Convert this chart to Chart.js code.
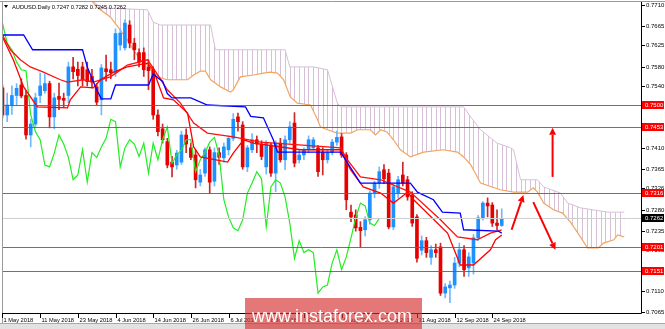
<!DOCTYPE html>
<html>
<head>
<meta charset="utf-8">
<title>AUDUSD Daily</title>
<script src="https://cdn.jsdelivr.net/npm/chart.js@4.4.1/dist/chart.umd.min.js"></script>
<style>
  html, body { margin: 0; padding: 0; background: #fff; }
  #chart { display: block; }
</style>
</head>
<body>
<canvas id="chart" width="665" height="329"></canvas>
<script>

// bougies, une par jour (1 May 2018 -> 26 Sep 2018)
const opens = [0.7536,0.7479,0.7500,0.7520,0.7542,0.7520,0.7437,0.7460,0.7520,0.7530,
  0.7545,0.7475,0.7518,0.7514,0.7520,0.7580,0.7575,0.7580,0.7574,0.7560,
  0.7538,0.7511,0.7576,0.7574,0.7568,0.7626,0.7620,0.7668,0.7630,0.7610,
  0.7610,0.7580,0.7574,0.7479,0.7450,0.7423,0.7380,0.7374,0.7380,0.7437,
  0.7410,0.7395,0.7338,0.7357,0.7406,0.7340,0.7400,0.7389,0.7406,0.7430,
  0.7475,0.7458,0.7370,0.7406,0.7427,0.7418,0.7370,0.7416,0.7357,0.7420,
  0.7385,0.7427,0.7462,0.7385,0.7395,0.7406,0.7410,0.7410,0.7400,0.7385,
  0.7400,0.7422,0.7433,0.7395,0.7275,0.7269,0.7243,0.7238,0.7259,0.7315,
  0.7336,0.7364,0.7357,0.7244,0.7315,0.7353,0.7343,0.7311,0.7265,0.7195,
  0.7215,0.7180,0.7196,0.7202,0.7105,0.7116,0.7122,0.7168,0.7196,0.7158,
  0.7168,0.7221,0.7263,0.7294,0.7290,0.7252,0.7247];
const highs = [0.7542,0.7525,0.7540,0.7545,0.7555,0.7530,0.7470,0.7525,0.7567,0.7565,
  0.7550,0.7525,0.7546,0.7525,0.7590,0.7600,0.7590,0.7590,0.7590,0.7575,
  0.7545,0.7585,0.7605,0.7590,0.7660,0.7660,0.7679,0.7677,0.7640,0.7618,
  0.7620,0.7595,0.7580,0.7490,0.7460,0.7430,0.7392,0.7405,0.7445,0.7450,
  0.7420,0.7405,0.7365,0.7410,0.7412,0.7410,0.7410,0.7420,0.7435,0.7482,
  0.7483,0.7465,0.7415,0.7440,0.7435,0.7425,0.7425,0.7420,0.7425,0.7430,
  0.7435,0.7465,0.7484,0.7405,0.7410,0.7435,0.7432,0.7415,0.7410,0.7405,
  0.7428,0.7445,0.7440,0.7400,0.7290,0.7280,0.7255,0.7265,0.7320,0.7340,
  0.7370,0.7375,0.7365,0.7335,0.7350,0.7380,0.7350,0.7318,0.7270,0.7225,
  0.7222,0.7205,0.7208,0.7210,0.7125,0.7130,0.7180,0.7210,0.7205,0.7190,
  0.7228,0.7268,0.7297,0.7305,0.7295,0.7280,0.7282];
const lows = [0.7473,0.7465,0.7480,0.7500,0.7515,0.7428,0.7412,0.7455,0.7505,0.7525,
  0.7452,0.7450,0.7490,0.7495,0.7505,0.7555,0.7540,0.7540,0.7540,0.7536,
  0.7500,0.7479,0.7550,0.7555,0.7560,0.7615,0.7615,0.7620,0.7595,0.7580,
  0.7560,0.7532,0.7470,0.7435,0.7420,0.7368,0.7349,0.7365,0.7375,0.7400,
  0.7385,0.7326,0.7330,0.7350,0.7315,0.7330,0.7375,0.7380,0.7395,0.7425,
  0.7445,0.7365,0.7360,0.7400,0.7400,0.7385,0.7355,0.7350,0.7318,0.7380,
  0.7364,0.7420,0.7370,0.7378,0.7385,0.7400,0.7405,0.7350,0.7353,0.7378,
  0.7395,0.7415,0.7390,0.7280,0.7255,0.7235,0.7202,0.7225,0.7250,0.7305,
  0.7325,0.7335,0.7240,0.7238,0.7305,0.7330,0.7300,0.7245,0.7170,0.7185,
  0.7180,0.7165,0.7180,0.7100,0.7095,0.7085,0.7115,0.7160,0.7140,0.7140,
  0.7145,0.7215,0.7258,0.7265,0.7245,0.7238,0.7245];
const closes = [0.7479,0.7500,0.7520,0.7535,0.7519,0.7437,0.7460,0.7515,0.7540,0.7545,
  0.7475,0.7515,0.7512,0.7510,0.7580,0.7570,0.7562,0.7553,0.7549,0.7548,
  0.7506,0.7578,0.7570,0.7568,0.7650,0.7651,0.7672,0.7630,0.7616,0.7590,
  0.7574,0.7572,0.7479,0.7444,0.7427,0.7374,0.7370,0.7399,0.7437,0.7418,
  0.7390,0.7343,0.7353,0.7406,0.7338,0.7400,0.7390,0.7412,0.7430,0.7470,
  0.7465,0.7370,0.7410,0.7427,0.7418,0.7392,0.7420,0.7357,0.7420,0.7385,
  0.7427,0.7454,0.7378,0.7395,0.7405,0.7427,0.7427,0.7360,0.7385,0.7400,
  0.7422,0.7432,0.7395,0.7301,0.7265,0.7242,0.7236,0.7259,0.7315,0.7336,
  0.7360,0.7345,0.7244,0.7328,0.7343,0.7336,0.7307,0.7252,0.7178,0.7215,
  0.7190,0.7196,0.7190,0.7105,0.7118,0.7122,0.7168,0.7196,0.7154,0.7181,
  0.7221,0.7263,0.7294,0.7288,0.7252,0.7247,0.7262];

// lignes Ichimoku : position en barres / prix
const tenkanBars = [0,2.3,4.5,7.4,13.8,14.4,16.6,19.3,20.8,23.6,26.5,30.8,32,34.2,36.3,39.3,40.6,42,47.8,49,
  51.2,53.3,63.3,71.8,73.9,76.6,80.3,83,84.5,86,87.3,94.5,97.2,100,103.6,104.7,106];
const tenkanVals = [0.7643,0.7595,0.7538,0.7496,0.7494,0.7511,0.7538,0.7536,0.7553,0.7569,0.7580,0.7588,0.7574,0.7515,0.7511,0.7483,0.7412,0.7391,0.7380,0.7399,
  0.7427,0.7420,0.7406,0.7406,0.7364,0.7328,0.7315,0.7294,0.7305,0.7317,0.7301,0.7231,0.7164,0.7164,0.7196,0.7217,0.7227];

const maBars = [0,1.7,3.8,5.9,8.7,12.3,13.8,17.2,19.3,22.9,24.4,26.5,30.8,32,35,37.8,40.6,43.5,49,54.8,
  71.8,73.2,76,80.3,86.6,93,96.6,100.8,103.6,106];
const maVals = [0.7647,0.7616,0.7595,0.7580,0.7569,0.7553,0.7548,0.7553,0.7548,0.7559,0.7569,0.7584,0.7595,0.7578,0.7532,0.7504,0.7462,0.7441,0.7433,0.7422,
  0.7410,0.7385,0.7349,0.7343,0.7317,0.7259,0.7223,0.7217,0.7231,0.7238];

const kijunBars = [0,4.5,6.4,17,18,20,21,23,24,31,32,33,34,35,36,40,43.5,51.6,52.7,55.4,
  57.5,58.4,71.8,76,86.6,88.1,91.5,93.4,97.2,97.9,105.3,106];
const kijunVals = [0.7647,0.7647,0.7616,0.7616,0.7580,0.7532,0.7513,0.7513,0.7542,0.7542,0.7565,0.7557,0.7550,0.7524,0.7515,0.7515,0.7500,0.7496,0.7476,0.7473,
  0.7427,0.7401,0.7401,0.7336,0.7336,0.7317,0.7301,0.7275,0.7273,0.7238,0.7235,0.7231];

const spanABars = [18,20.2,22.9,25,26.5,27.8,29.3,30.8,32,33.5,35,39.3,40.6,42,43.1,44.2,46.3,48.4,49,50.5,
  53.3,55.4,56.9,58.4,59.7,61.1,62.6,65.4,66.9,67.5,69,71.1,73.9,75.4,78.1,79.2,80.3,81.7,83,84.5,
  86.6,89.4,93.6,96.6,97.9,99.4,101.5,105.7,108.5,111.5,112.7,113.6,114.9,117,118.9,120.6,122.7,124.2,126.5,127.6,
  129.8,130.6,132];
const spanAVals = [0.7730,0.7704,0.7685,0.7658,0.7637,0.7616,0.7595,0.7584,0.7569,0.7557,0.7553,0.7553,0.7563,0.7571,0.7571,0.7553,0.7538,0.7527,0.7532,0.7559,
  0.7563,0.7567,0.7569,0.7567,0.7553,0.7517,0.7504,0.7500,0.7469,0.7454,0.7448,0.7441,0.7441,0.7448,0.7448,0.7437,0.7448,0.7443,0.7427,0.7406,
  0.7391,0.7401,0.7406,0.7401,0.7391,0.7375,0.7336,0.7322,0.7317,0.7317,0.7326,0.7317,0.7294,0.7280,0.7273,0.7254,0.7223,0.7200,0.7200,0.7210,
  0.7217,0.7227,0.7223];

const spanBBars = [18,20.8,30.8,32,33.5,44.2,45.2,60,61,66,69,71.1,71.8,97.9,99.4,101.5,105,107.9,108.5,110,
  113.6,114.9,118.5,120,122.7,128.5,132];
const spanBVals = [0.7730,0.7704,0.7700,0.7674,0.7668,0.7668,0.7616,0.7616,0.7580,0.7580,0.7574,0.7504,0.7496,0.7496,0.7475,0.7448,0.7420,0.7410,0.7406,0.7343,
  0.7343,0.7328,0.7315,0.7294,0.7284,0.7275,0.7275];

// axe du temps
const dateBars = [0,8,16,24,32,40,48,56,64,72,80,88,96,104];
const dateLabels = ["1 May 2018","11 May 2018","23 May 2018","4 Jun 2018","14 Jun 2018","26 Jun 2018","6 Jul 2018",
  "18 Jul 2018","30 Jul 2018","9 Aug 2018","21 Aug 2018","31 Aug 2018","12 Sep 2018","24 Sep 2018"];

// axe des prix
const priceTicks = [0.7710,0.7665,0.7625,0.7580,0.7540,0.7495,0.7455,0.7410,0.7365,0.7326,0.7280,0.7235,0.7195,0.7150,0.7110,0.7065];
const levels = [0.7500,0.7453,0.7316,0.7201,0.7151];
const lastPrice = 0.7262;

// fleches rouges : [barre, prix] depart -> arrivee
const arrowFrom = [[116.8,0.7349],[108.1,0.7238],[112.7,0.7296]];
const arrowTo = [[116.8,0.7452],[110.6,0.7311],[117.4,0.7196]];

const FONT = '"Liberation Sans", Arial, sans-serif';

function pts(bars, vals) {
  return bars.map((b, k) => ({ x: b, y: vals[k] }));
}

const hausse = closes.map((c, i) => c >= opens[i]);
const bodyData = opens.map((o, i) => ({ x: i, y: [o, closes[i]] }));
const wickData = opens.map((o, i) => ({ x: i, y: [lows[i], highs[i]] }));
const chikouData = closes.slice(26).map((c, k) => ({ x: k, y: c }));

// hachures verticales du nuage
const hatch = (function () {
  const c = document.createElement('canvas');
  c.width = 33; c.height = 2;
  const g = c.getContext('2d');
  g.fillStyle = 'rgb(216,191,216)';
  [2, 7, 11, 16, 21, 26, 30].forEach(x => g.fillRect(x, 0, 1, 2));
  return g.createPattern(c, 'repeat');
})();

function fleche(ctx, x1, y1, x2, y2) {
  const ang = Math.atan2(y2 - y1, x2 - x1);
  const len = 7, w = 3.5;
  const bx = x2 - len * Math.cos(ang), by = y2 - len * Math.sin(ang);
  ctx.beginPath();
  ctx.moveTo(x1, y1);
  ctx.lineTo(bx, by);
  ctx.stroke();
  ctx.beginPath();
  ctx.moveTo(x2, y2);
  ctx.lineTo(bx + w * Math.sin(ang), by - w * Math.cos(ang));
  ctx.lineTo(bx - w * Math.sin(ang), by + w * Math.cos(ang));
  ctx.closePath();
  ctx.fill();
}

const mt4Plugin = {
  id: 'mt4',
  beforeDraw(chart) {
    const ctx = chart.ctx;
    ctx.save();
    ctx.fillStyle = '#fff';
    ctx.fillRect(0, 0, chart.width, chart.height);
    ctx.restore();
  },
  afterDatasetsDraw(chart) {
    const { ctx, chartArea: a, scales: { y } } = chart;
    ctx.save();
    ctx.lineWidth = 1;
    // ligne du dernier prix
    let py = Math.round(y.getPixelForValue(lastPrice)) + 0.5;
    ctx.strokeStyle = '#cfcfcf';
    ctx.beginPath(); ctx.moveTo(a.left, py); ctx.lineTo(a.right, py); ctx.stroke();
    // niveaux horizontaux
    ctx.strokeStyle = 'rgba(255,30,30,0.9)';
    levels.forEach(v => {
      const ly = Math.round(y.getPixelForValue(v)) + 0.5;
      ctx.beginPath(); ctx.moveTo(a.left, ly); ctx.lineTo(a.right, ly); ctx.stroke();
    });
    ctx.restore();
  },
  afterDraw(chart) {
    const { ctx, chartArea: a, scales: { x, y } } = chart;
    ctx.save();

    // fleches
    ctx.strokeStyle = '#ff0000';
    ctx.fillStyle = '#ff0000';
    ctx.lineWidth = 2;
    arrowFrom.forEach((f, k) => {
      const t = arrowTo[k];
      fleche(ctx, x.getPixelForValue(f[0]), y.getPixelForValue(f[1]),
        x.getPixelForValue(t[0]), y.getPixelForValue(t[1]));
    });

    // bande grise en bas
    ctx.fillStyle = '#e2e2e2';
    ctx.fillRect(0, 323, chart.width, chart.height - 323);
    ctx.fillStyle = '#a8a8a8';
    ctx.fillRect(0, 323, chart.width, 1);

    // cadre
    ctx.lineWidth = 1;
    ctx.strokeStyle = '#9a9a9a';
    ctx.beginPath();
    ctx.moveTo(0, 1.5); ctx.lineTo(chart.width, 1.5);
    ctx.moveTo(2.5, 1.5); ctx.lineTo(2.5, 323);
    ctx.stroke();
    ctx.strokeStyle = '#000';
    ctx.beginPath();
    ctx.moveTo(a.right + 0.5, a.top); ctx.lineTo(a.right + 0.5, a.bottom + 0.5);
    ctx.moveTo(a.left, a.bottom + 0.5); ctx.lineTo(a.right + 0.5, a.bottom + 0.5);
    ctx.stroke();

    // axe des prix
    ctx.font = '6px ' + FONT;
    ctx.textBaseline = 'middle';
    ctx.textAlign = 'left';
    ctx.fillStyle = '#000';
    priceTicks.forEach(v => {
      const ty = Math.round(y.getPixelForValue(v)) + 0.5;
      ctx.beginPath(); ctx.moveTo(a.right + 1, ty); ctx.lineTo(a.right + 4, ty); ctx.stroke();
      ctx.fillText(v.toFixed(4), a.right + 5, ty);
    });
    levels.forEach(v => {
      const ty = Math.round(y.getPixelForValue(v));
      ctx.fillStyle = '#ff0000';
      ctx.fillRect(a.right + 1, ty - 4, 22, 8);
      ctx.fillStyle = '#fff';
      ctx.fillText(v.toFixed(4), a.right + 4, ty + 0.5);
    });
    let ly = Math.round(y.getPixelForValue(lastPrice));
    ctx.fillStyle = '#000';
    ctx.fillRect(a.right + 1, ly - 4, 22, 8);
    ctx.fillStyle = '#fff';
    ctx.fillText(lastPrice.toFixed(4), a.right + 4, ly + 0.5);

    // axe du temps
    ctx.fillStyle = '#000';
    ctx.strokeStyle = '#000';
    ctx.font = '5.7px ' + FONT;
    dateBars.forEach((b, k) => {
      const tx = Math.round(x.getPixelForValue(b)) + 0.5;
      ctx.beginPath(); ctx.moveTo(tx, a.bottom + 1); ctx.lineTo(tx, a.bottom + 5); ctx.stroke();
      ctx.fillText(dateLabels[k], tx + 1, a.bottom + 7);
    });

    // titre
    ctx.beginPath();
    ctx.moveTo(4, 5); ctx.lineTo(8, 5); ctx.lineTo(6, 8); ctx.closePath();
    ctx.fill();
    ctx.font = '5.7px ' + FONT;
    ctx.fillText('AUDUSD.Daily 0.7247 0.7282 0.7245 0.7262', 12, 7);

    // filigrane
    ctx.fillStyle = 'rgba(214,50,50,0.66)';
    ctx.fillRect(245, 298, 177, chart.height - 298);
    ctx.fillStyle = '#fff';
    ctx.font = '18px ' + FONT;
    ctx.textAlign = 'center';
    ctx.textBaseline = 'alphabetic';
    ctx.fillText('www.instaforex.com', 332, 322);

    ctx.restore();
  }
};

const ctx = document.getElementById('chart').getContext('2d');

const chart = new Chart(ctx, {
  type: 'bar',
  data: {
    datasets: [
      {
        type: 'line', label: 'Senkou A', data: pts(spanABars, spanAVals),
        borderColor: '#f4a460', borderWidth: 1.2, pointRadius: 0, fill: false, order: 9
      },
      {
        type: 'line', label: 'Senkou B', data: pts(spanBBars, spanBVals),
        borderColor: 'rgb(216,191,216)', borderWidth: 1, pointRadius: 0,
        fill: '-1', backgroundColor: hatch, order: 10
      },
      {
        label: 'Meches', data: wickData, grouped: false, barThickness: 1, minBarLength: 1,
        backgroundColor: hausse.map(h => h ? 'rgb(110,185,255)' : 'rgb(205,40,40)'),
        borderWidth: 0, order: 8
      },
      {
        label: 'Corps', data: bodyData, grouped: false, barThickness: 3, minBarLength: 1,
        backgroundColor: hausse.map(h => h ? 'rgb(30,144,255)' : 'rgb(230,0,0)'),
        borderWidth: 0, order: 7
      },
      {
        type: 'line', label: 'Chikou', data: chikouData,
        borderColor: '#22ee22', borderWidth: 1.2, pointRadius: 0, fill: false, order: 5
      },
      {
        type: 'line', label: 'MA', data: pts(maBars, maVals),
        borderColor: '#ff1010', borderWidth: 1.3, pointRadius: 0, fill: false, order: 4
      },
      {
        type: 'line', label: 'Tenkan', data: pts(tenkanBars, tenkanVals),
        borderColor: '#ff0000', borderWidth: 1.3, pointRadius: 0, fill: false, order: 3
      },
      {
        type: 'line', label: 'Kijun', data: pts(kijunBars, kijunVals),
        borderColor: '#0000ff', borderWidth: 1.3, pointRadius: 0, fill: false, order: 2
      }
    ]
  },
  options: {
    responsive: false,
    animation: false,
    devicePixelRatio: 1,
    layout: { padding: { left: 2, top: 2, right: 24, bottom: 16 } },
    plugins: {
      legend: { display: false },
      tooltip: { enabled: false },
      filler: { propagate: false }
    },
    scales: {
      x: { type: 'linear', display: false, min: -0.1, max: 135.57, offset: false },
      y: { type: 'linear', display: false, min: 0.70632, max: 0.77163 }
    }
  },
  plugins: [mt4Plugin]
});
</script>
</body>
</html>
